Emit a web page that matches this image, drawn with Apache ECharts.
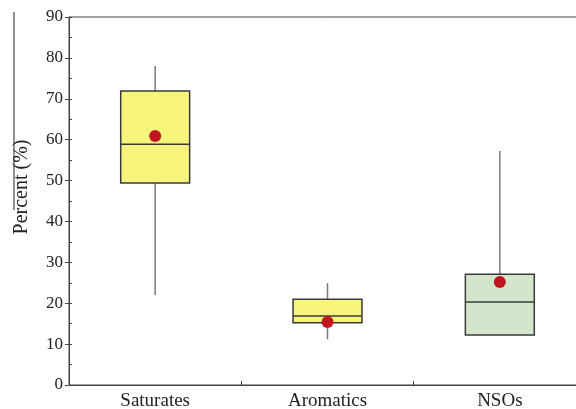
<!DOCTYPE html>
<html>
<head>
<meta charset="utf-8">
<script src="https://cdn.jsdelivr.net/npm/echarts@6/dist/echarts.min.js"></script>
<style>
  html, body { margin: 0; padding: 0; background: #ffffff; overflow: hidden; }
  #chart { width: 586px; height: 409px; }
</style>
</head>
<body>
<div id="chart"></div>
<script>
// Fraction groups and their distributions (percent)
var categories = ['Saturates', 'Aromatics', 'NSOs'];
var whiskerLow = [22.0, 11.2, 12.2];
var quartile1  = [49.4, 15.2, 12.2];
var medians    = [58.9, 16.9, 20.3];
var quartile3  = [71.9, 21.0, 27.1];
var whiskerHigh = [78.0, 24.9, 57.2];
var means      = [60.9, 15.4, 25.2];
var boxColors  = ['#f7f47c', '#f7f47c', '#d3e6cb'];

var boxData = categories.map(function (c, i) {
  return [i, whiskerLow[i], quartile1[i], medians[i], quartile3[i], whiskerHigh[i]];
});
var meanData = categories.map(function (c, i) { return [i, means[i]]; });

var chart = echarts.init(document.getElementById('chart'));
var serif = '"Liberation Serif", "DejaVu Serif", serif';

function renderBox(params, api) {
  var idx = api.value(0);
  var pLow = api.coord([idx, api.value(1)]);
  var pQ1 = api.coord([idx, api.value(2)]);
  var pMed = api.coord([idx, api.value(3)]);
  var pQ3 = api.coord([idx, api.value(4)]);
  var pHigh = api.coord([idx, api.value(5)]);
  var halfW = api.size([1, 0])[0] * 0.2;
  var x = pMed[0];
  return {
    type: 'group',
    children: [
      {
        type: 'line',
        shape: { x1: x, y1: pHigh[1], x2: x, y2: pQ3[1] },
        style: { stroke: '#7a7a7a', lineWidth: 1.5 }
      },
      {
        type: 'line',
        shape: { x1: x, y1: pQ1[1], x2: x, y2: pLow[1] },
        style: { stroke: '#7a7a7a', lineWidth: 1.5 }
      },
      {
        type: 'rect',
        shape: { x: x - halfW, y: pQ3[1], width: halfW * 2, height: pQ1[1] - pQ3[1] },
        style: { fill: boxColors[params.dataIndex], stroke: '#3a3a3a', lineWidth: 1.5 }
      },
      {
        type: 'line',
        shape: { x1: x - halfW, y1: pMed[1], x2: x + halfW, y2: pMed[1] },
        style: { stroke: '#3a3a3a', lineWidth: 1.5 }
      }
    ]
  };
}

chart.setOption({
  animation: false,
  backgroundColor: '#ffffff',
  grid: {
    left: 69, top: 17, bottom: 24, right: 0,
    outerBoundsMode: 'none',
    containLabel: false,
    show: true, borderColor: '#444444', borderWidth: 1,
    backgroundColor: 'transparent'
  },
  xAxis: {
    type: 'category',
    data: categories,
    boundaryGap: true,
    axisLine: { lineStyle: { color: '#444444', width: 1 } },
    axisTick: { show: true, inside: true, length: 4, lineStyle: { color: '#444444' } },
    axisLabel: { color: '#222222', fontFamily: serif, fontSize: 19, margin: 7 },
    splitLine: { show: false }
  },
  yAxis: [
    {
      type: 'value',
      min: 0, max: 90, interval: 10,
      name: 'Percent (%)',
      nameLocation: 'middle',
      nameGap: 37,
      nameTextStyle: { color: '#222222', fontFamily: serif, fontSize: 20, padding: [0, 0, 0, 28] },
      axisLine: { show: true, lineStyle: { color: '#444444', width: 1 } },
      axisTick: { show: true, length: 4, lineStyle: { color: '#444444' } },
      axisLabel: { color: '#222222', fontFamily: serif, fontSize: 17, margin: 6 },
      splitLine: { show: false }
    },
    {
      type: 'value',
      min: 0, max: 90, interval: 5,
      position: 'left',
      axisLine: { show: false },
      axisTick: { show: true, inside: true, length: 3, lineStyle: { color: '#444444' } },
      axisLabel: { show: false },
      splitLine: { show: false }
    }
  ],
  series: [
    {
      type: 'custom',
      renderItem: renderBox,
      data: boxData,
      encode: { x: 0, y: [1, 2, 3, 4, 5] },
      z: 2
    },
    {
      type: 'scatter',
      data: meanData,
      symbol: 'circle',
      symbolSize: 12,
      itemStyle: { color: '#c1161f', opacity: 1 },
      z: 3
    }
  ],
  graphic: [
    {
      type: 'line',
      shape: { x1: 14, y1: 12, x2: 14, y2: 210 },
      style: { stroke: '#222222', lineWidth: 1 }
    }
  ]
});
</script>
</body>
</html>
